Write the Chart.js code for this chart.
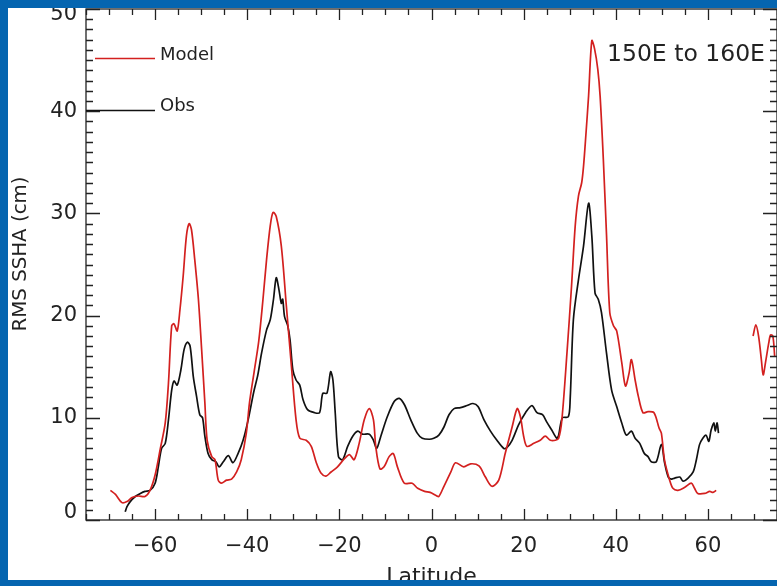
<!DOCTYPE html>
<html>
<head>
<meta charset="utf-8">
<script src="https://cdn.jsdelivr.net/npm/chart.js@4"></script>
<style>
  body { margin: 0; background: #fff; }
  #wrap { position: relative; width: 777px; height: 586px; overflow: hidden; background: #fff; }
  #sshaChart { position: absolute; left: 0; top: 0; }
  .frame { position: absolute; background: #0565b0; }
</style>
</head>
<body>
<div id="wrap">
  <canvas id="sshaChart" width="777" height="586"></canvas>
  <div class="frame" style="left:0;top:0;width:777px;height:8px"></div>
  <div class="frame" style="left:0;top:0;width:8px;height:586px"></div>
  <div class="frame" style="left:0;top:580px;width:777px;height:6px"></div>
</div>
<script>
// latitude (deg) and RMS SSHA (cm)
const modelLat = [-69.7, -68.6, -67.2, -66.1, -65.0, -63.6, -62.2, -61.1, -60.0, -58.9, -57.8, -57.1, -56.4, -55.9,
  -55.2, -54.6, -53.9, -53.2, -52.6, -52.1, -51.4, -50.6, -49.9, -49.2, -48.7, -47.7, -47.0, -46.3, -45.6, -44.5,
  -43.4, -42.3, -41.3, -40.2, -39.5, -38.5, -37.5, -36.6, -35.8, -35.0, -34.4, -33.7, -32.6, -31.5, -30.4, -29.4,
  -28.6, -27.2, -26.1, -25.0, -24.0, -22.9, -21.8, -20.4, -18.9, -17.8, -16.8, -15.7, -14.6, -13.5, -12.6, -12.1,
  -11.2, -10.3, -9.2, -8.3, -7.4, -5.9, -4.2, -3.0, -1.5, -0.3, 1.0, 1.6, 2.7, 4.2, 5.2, 7.0, 8.5, 10.3, 11.7,
  13.1, 14.6, 16.0, 17.5, 18.6, 19.3, 20.0, 20.7, 22.2, 23.6, 24.7, 25.8, 26.9, 27.6, 28.3, 29.4, 30.4, 31.2,
  31.9, 32.6, 33.0, 33.5, 34.1, 34.8, 35.4, 36.1, 36.6, 37.3, 38.0, 38.7, 39.5, 40.2, 41.3, 42.1, 42.9, 43.4,
  44.2, 44.9, 45.9, 47.0, 48.3, 49.4, 49.9, 50.6, 51.7, 52.4, 53.5, 55.0, 56.4, 57.1, 57.8, 59.3, 60.4, 61.1,
  61.8, 66.0, 69.8, 70.4, 71.0, 71.6, 72.0, 72.5, 73.2, 73.6, 74.1, 74.5];
const modelVal = [2.9, 2.5, 1.7, 1.8, 2.2, 2.35, 2.3, 2.9, 4.4, 6.9, 9.5, 13.4, 19.0, 19.2,
  18.5, 20.6, 23.9, 27.8, 29.0, 28.4, 25.5, 21.6, 16.7, 11.5, 7.8, 6.2, 5.9, 3.9, 3.6, 3.9,
  4.0, 4.7, 5.9, 8.5, 11.5, 14.5, 17.5, 21.5, 25.5, 28.8, 30.1, 29.7, 26.8, 20.9, 15.0, 9.8,
  8.0, 7.8, 7.2, 5.6, 4.6, 4.3, 4.7, 5.2, 6.0, 6.4, 5.9, 7.5, 9.8, 10.9, 9.8, 7.2,
  5.0, 5.2, 6.2, 6.5, 5.2, 3.6, 3.6, 3.1, 2.8, 2.7, 2.4, 2.3, 3.3, 4.7, 5.6, 5.2, 5.5, 5.3, 4.2,
  3.3, 3.9, 6.5, 9.1, 10.9, 10.1, 8.2, 7.2, 7.5, 7.8, 8.2, 7.8, 7.8, 8.0, 9.8, 16.3, 22.9, 28.8,
  31.7, 33.0, 34.6, 37.6, 41.5, 46.9, 46.1, 44.1, 41.5, 35.3, 27.8, 20.3, 19.0, 18.5, 15.4, 13.1, 14.4, 15.7,
  13.7, 12.1, 10.5, 10.6, 10.5, 9.0, 8.5, 5.8, 3.9, 3.1, 2.9, 3.2, 3.6, 3.1, 2.6, 2.6, 2.8, 2.7,
  2.9, null, 18.0, 19.1, 18.0, 15.7, 14.2, 15.4, 17.3, 18.1, 18.0, 16.0];

const obsLat = [-66.5, -66.1, -65.4, -64.3, -63.2, -62.2, -61.1, -60.0, -59.3, -58.6, -57.8, -57.1, -56.4, -55.9,
  -55.2, -54.4, -53.7, -53.0, -52.4, -51.7, -51.0, -50.3, -49.7, -49.2, -48.5, -47.7, -46.8, -46.1, -45.2, -44.1,
  -43.1, -42.0, -40.9, -39.8, -38.6, -37.7, -36.9, -35.8, -35.0, -34.3, -33.7, -33.1, -32.6, -32.3, -31.9, -31.2,
  -30.7, -30.1, -29.4, -28.6, -27.9, -26.9, -25.4, -24.3, -23.6, -22.7, -21.9, -21.4, -20.9, -20.2, -19.3, -18.2,
  -17.1, -16.0, -15.0, -13.5, -12.6, -11.9, -11.0, -9.6, -8.1, -7.0, -5.9, -4.5, -3.1, -2.0, -0.5, 0.5, 1.6, 2.7,
  3.8, 4.9, 6.3, 7.7, 9.0, 10.1, 11.4, 12.8, 14.2, 15.7, 16.4, 17.5, 18.9, 20.4, 21.8, 22.9, 24.1, 25.0, 26.1,
  27.2, 27.6, 28.4, 29.7, 30.1, 30.8, 31.9, 33.0, 34.1, 34.8, 35.5, 36.2, 36.9, 38.0, 39.1, 40.2, 41.3, 42.3,
  43.4, 44.2, 45.2, 46.2, 47.0, 47.7, 48.8, 49.9, 50.6, 51.4, 52.1, 52.8, 53.9, 54.6, 55.7, 56.8, 57.5, 58.2,
  58.9, 59.6, 60.2, 60.7, 61.3, 61.6, 62.0, 62.3];
const obsVal = [0.8, 1.3, 1.8, 2.3, 2.6, 2.8, 2.9, 3.6, 5.2, 7.0, 7.5, 9.8, 12.7, 13.6,
  13.2, 14.7, 16.7, 17.4, 17.0, 14.0, 12.1, 10.3, 10.0, 8.2, 6.5, 5.9, 5.7, 5.2, 5.7, 6.3,
  5.6, 6.5, 7.8, 9.8, 12.5, 14.2, 16.3, 18.6, 19.6, 21.6, 23.7, 22.5, 21.2, 21.6, 19.9, 19.0,
  17.6, 14.7, 13.7, 13.2, 11.8, 10.8, 10.5, 10.5, 12.4, 12.4, 14.5, 13.7, 10.5, 6.2, 5.9, 7.2,
  8.2, 8.7, 8.4, 8.4, 7.8, 7.0, 8.2, 10.1, 11.6, 11.9, 11.3, 9.8, 8.5, 8.0, 7.9, 8.0, 8.3, 9.1,
  10.3, 10.9, 11.0, 11.2, 11.4, 11.1, 9.8, 8.7, 7.8, 7.0, 7.1, 7.8, 9.3, 10.5, 11.2, 10.5, 10.3, 9.6, 8.8,
  8.0, 8.3, 10.0, 10.1, 11.8, 19.6, 23.5, 26.8, 31.0, 27.8, 22.2, 21.6, 20.3, 16.3, 12.7, 11.1, 9.5, 8.3,
  8.7, 8.0, 7.5, 6.5, 6.2, 5.7, 5.7, 7.4, 5.6, 4.2, 4.0, 4.1, 4.2, 3.8, 4.1, 4.7, 5.9, 7.4,
  8.0, 8.3, 7.7, 8.8, 9.5, 8.7, 9.5, 8.5];

const yTicks = [0, 10, 20, 30, 40, 50];
const regionLabel = '150E to 160E';

const red = '#d3201f';
const black = '#111111';
const ink = '#222222';
const font = 'DejaVu Sans';

const toPoints = (xs, ys) => xs.map((x, i) => ({ x: x, y: ys[i] }));
const minus = v => (v < 0 ? '\u2212' + Math.abs(v) : String(v));

// IDL-style box: inward ticks on all four sides, minor ticks, labels and legend
const idlFrame = {
  id: 'idlFrame',
  afterDraw(chart) {
    const { ctx, chartArea: a, scales: { x, y } } = chart;
    ctx.save();
    ctx.strokeStyle = ink;
    ctx.lineWidth = 1.3;
    ctx.strokeRect(a.left, a.top, a.right - a.left, a.bottom - a.top);

    ctx.beginPath();
    for (let v = -75; v <= 75; v += 5) {
      const px = Math.round(x.getPixelForValue(v)) + 0.5;
      const len = v % 20 === 0 ? 11 : 6;
      ctx.moveTo(px, a.bottom); ctx.lineTo(px, a.bottom - len);
      ctx.moveTo(px, a.top); ctx.lineTo(px, a.top + len);
    }
    for (let v = 0; v <= 50; v += 1) {
      const py = Math.round(y.getPixelForValue(v)) + 0.5;
      const len = v % 10 === 0 ? 14 : 7;
      ctx.moveTo(a.left, py); ctx.lineTo(a.left + len, py);
      ctx.moveTo(a.right, py); ctx.lineTo(a.right - len, py);
    }
    ctx.stroke();

    // y tick labels, kept inside the box like IDL does
    ctx.fillStyle = ink;
    ctx.font = '21px "' + font + '"';
    ctx.textAlign = 'right';
    ctx.textBaseline = 'middle';
    yTicks.forEach(v => {
      const py = Math.min(Math.max(y.getPixelForValue(v), a.top + 6), a.bottom - 7);
      ctx.fillText(String(v), a.left - 9, py);
    });

    // axis titles
    ctx.textAlign = 'center';
    ctx.textBaseline = 'alphabetic';
    ctx.font = '22px "' + font + '"';
    ctx.fillText('Latitude', x.getPixelForValue(0), a.bottom + 63);
    ctx.save();
    ctx.translate(26, 254);
    ctx.rotate(-Math.PI / 2);
    ctx.font = '19.8px "' + font + '"';
    ctx.fillText('RMS SSHA (cm)', 0, 0);
    ctx.restore();

    // region label
    ctx.textAlign = 'left';
    ctx.font = '23.5px "' + font + '"';
    ctx.fillText(regionLabel, 607, 61);

    // legend
    ctx.font = '18px "' + font + '"';
    ctx.lineWidth = 1.7;
    ctx.strokeStyle = red;
    ctx.beginPath(); ctx.moveTo(a.left + 9, 58.5); ctx.lineTo(a.left + 69, 58.5); ctx.stroke();
    ctx.strokeStyle = black;
    ctx.beginPath(); ctx.moveTo(a.left, 110.5); ctx.lineTo(a.left + 69, 110.5); ctx.stroke();
    ctx.fillText(chart.data.datasets[0].label, a.left + 74, 60);
    ctx.fillText(chart.data.datasets[1].label, a.left + 74, 111);
    ctx.restore();
  }
};

const sshaChart = document.getElementById('sshaChart');

new Chart(sshaChart, {
  type: 'line',
  data: {
    datasets: [{
      label: 'Model',
      data: toPoints(modelLat, modelVal),
      borderColor: red,
      borderWidth: 1.7,
      pointRadius: 0,
      tension: 0.3,
      spanGaps: false
    }, {
      label: 'Obs',
      data: toPoints(obsLat, obsVal),
      borderColor: black,
      borderWidth: 1.7,
      pointRadius: 0,
      tension: 0.3
    }]
  },
  options: {
    responsive: false,
    animation: false,
    layout: { padding: { top: 9, right: 0, bottom: 0, left: 0 } },
    plugins: {
      legend: { display: false },
      tooltip: { enabled: false }
    },
    scales: {
      x: {
        type: 'linear',
        min: -75,
        max: 75,
        grid: { display: false, drawTicks: false },
        border: { display: false },
        ticks: {
          stepSize: 20,
          padding: 14,
          color: ink,
          font: { family: font, size: 21 },
          callback: v => minus(v)
        },
        afterBuildTicks: s => { s.ticks = s.ticks.filter(t => t.value % 20 === 0); },
        afterFit: s => { s.height = 66; s.paddingLeft = 0; s.paddingRight = 0; }
      },
      y: {
        min: 0,
        max: 50,
        grid: { display: false, drawTicks: false },
        border: { display: false },
        ticks: { display: false, stepSize: 10 },
        afterFit: s => { s.width = 86; s.paddingTop = 0; s.paddingBottom = 0; }
      }
    }
  },
  plugins: [idlFrame]
});
</script>
</body>
</html>
